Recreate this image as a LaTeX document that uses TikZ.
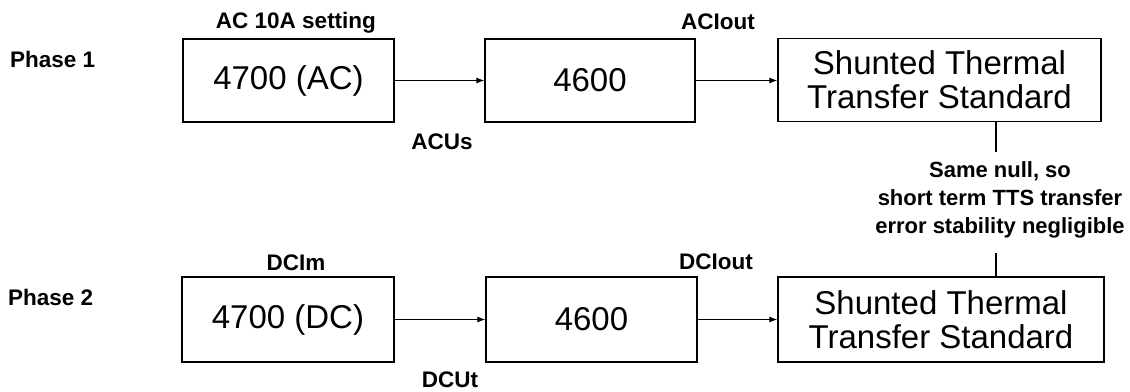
\documentclass[tikz,border=0pt]{standalone}
\usepackage{fontspec}
\setmainfont{Liberation Sans}
\usetikzlibrary{arrows.meta}

\begin{document}
\begin{tikzpicture}[x=1pt,y=1pt]
\tikzstyle{box}=[draw, line width=1.2pt, align=center, inner sep=0pt, font=\fontsize{33}{34}\selectfont]
\tikzstyle{lbl}=[font=\bfseries\fontsize{22.5}{28}\selectfont, align=center, inner sep=0pt]
\tikzstyle{link}=[line width=1.1pt, -{Latex[length=8pt,width=6pt]}]
    \useasboundingbox (0,0) rectangle (1130,391);

    % phase 1
    \node[lbl, anchor=west] (p1) at (10,332) {Phase 1};
    \node[box, minimum width=211pt, minimum height=83pt] (a1) at (288.5,310.5) {4700 (AC)};
    \node[box, minimum width=210pt, minimum height=83pt] (b1) at (590,310.5) {4600};
    \node[box, minimum width=323pt, minimum height=83pt] (c1) at (939.5,311) {Shunted Thermal\\Transfer Standard};
    \node[lbl] (set) at (296,368) {AC 10A setting};
    \node[lbl] (acus) at (442,249) {ACUs};
    \node[lbl] (aciout) at (718,369) {ACIout};

    % phase 2
    \node[lbl, anchor=west] (p2) at (8,94) {Phase 2};
    \node[box, minimum width=212pt, minimum height=85pt] (a2) at (288,71.5) {4700 (DC)};
    \node[box, minimum width=211pt, minimum height=85pt] (b2) at (591.5,71.5) {4600};
    \node[box, minimum width=326pt, minimum height=85pt] (c2) at (941,71.5) {Shunted Thermal\\Transfer Standard};
    \node[lbl] (dcim) at (296,128) {DCIm};
    \node[lbl] (dcut) at (450,11) {DCUt};
    \node[lbl] (dciout) at (716,129) {DCIout};

    % note between the two standards
    \node[lbl, font=\bfseries\fontsize{22}{28}\selectfont] (note) at (1000,191) {Same null, so\\short term TTS transfer\\error stability negligible};
    \coordinate (n1) at (996,239);
    \coordinate (n2) at (996,138);

    \draw[link] (a1) -- (b1);
    \draw[link] (b1) -- (c1.west |- b1);
    \draw[link] (a2) -- (b2);
    \draw[link] (b2) -- (c2.west |- b2);

    \draw[line width=1.1pt] (n1 |- c1.south) -- (n1);
    \draw[line width=1.1pt] (n2) -- (n2 |- c2.north);

\end{tikzpicture}
\end{document}
